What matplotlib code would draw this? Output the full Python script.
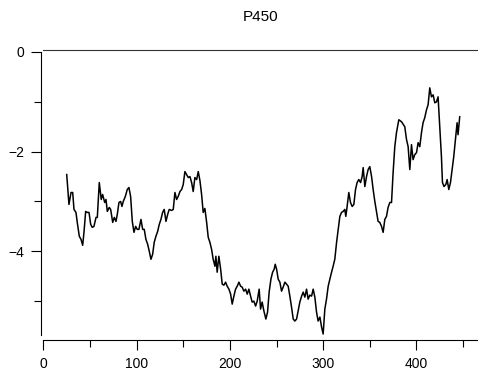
import numpy as np
import matplotlib
matplotlib.use("Agg")
import matplotlib.pyplot as plt
from matplotlib.ticker import MultipleLocator

plt.rcParams['font.family'] = ['Liberation Sans', 'DejaVu Sans']

# trace positions and values
pos = [25.1, 27.5, 29.7, 31.5, 32.9, 35.0, 36.4, 38.6, 40.4, 42.2,
       43.6, 45.4, 47.1, 49.0, 50.8, 52.5, 54.3, 56.5, 57.9, 60.0,
       62.1, 63.6, 65.8, 67.2, 68.6, 70.7, 72.2, 74.4, 76.1, 77.9,
       79.3, 81.1, 82.9, 84.3, 85.7, 87.9, 90.0, 91.8, 93.6, 95.4,
       97.2, 99.0, 100.7, 102.5, 104.7, 106.5, 108.2, 110.0, 111.9, 113.6,
       115.4, 117.2, 118.9, 120.7, 122.6, 124.3, 126.1, 127.9, 129.6, 131.5,
       133.3, 135.0, 137.6, 139.3, 141.1, 142.9, 144.6, 146.5, 148.3, 150.0,
       151.8, 153.6, 155.4, 157.2, 159.0, 160.7, 162.5, 164.4, 166.1, 167.9,
       169.7, 171.4, 173.2, 175.1, 176.8, 178.6, 180.4, 182.1, 184.0, 185.0,
       186.4, 188.2, 190.1, 191.8, 193.6, 195.4, 197.1, 199.0, 200.8, 202.5,
       204.3, 206.1, 207.9, 209.7, 211.5, 213.2, 215.0, 216.9, 218.6, 220.4,
       222.2, 223.9, 225.7, 227.6, 229.3, 231.4, 232.9, 234.6, 236.5, 238.6,
       240.4, 242.1, 244.0, 245.8, 247.5, 248.6, 250.1, 251.8, 253.6, 255.4,
       257.1, 259.0, 260.8, 262.5, 264.3, 266.1, 267.9, 269.7, 271.5, 273.2,
       275.0, 276.9, 278.6, 280.4, 282.2, 283.9, 285.7, 287.6, 289.3, 291.1,
       292.9, 294.6, 296.5, 298.3, 300.0, 301.8, 303.6, 305.4, 307.2, 309.0,
       310.7, 312.5, 314.4, 316.1, 317.9, 319.7, 321.4, 323.2, 324.3, 325.7,
       327.5, 329.3, 331.1, 332.9, 334.7, 336.4, 338.2, 340.1, 341.8, 342.9,
       344.7, 346.5, 348.2, 350.0, 351.9, 353.6, 355.4, 357.2, 358.9, 360.7,
       362.6, 364.3, 366.1, 367.9, 369.6, 371.5, 373.3, 375.0, 376.8, 378.6,
       381.1, 384.0, 387.5, 389.4, 391.1, 392.9, 394.7, 396.4, 398.2, 400.1,
       401.8, 403.6, 405.4, 407.1, 408.9, 410.8, 412.5, 414.3, 416.1, 417.9,
       419.7, 421.5, 423.2, 425.0, 426.8, 427.9, 429.6, 431.5, 432.9, 434.7,
       436.5, 438.2, 440.0, 441.8, 443.6, 444.6, 446.4]
vals = [-2.46, -3.06, -2.82, -2.82, -3.16, -3.22, -3.42, -3.70, -3.76, -3.88,
        -3.62, -3.20, -3.22, -3.22, -3.46, -3.52, -3.50, -3.32, -3.32, -2.62,
        -2.96, -2.86, -3.02, -2.96, -3.20, -3.12, -3.16, -3.42, -3.32, -3.40,
        -3.26, -3.02, -3.00, -3.10, -3.00, -2.90, -2.76, -2.72, -2.90, -3.40,
        -3.62, -3.50, -3.56, -3.56, -3.36, -3.56, -3.56, -3.76, -3.86, -4.00,
        -4.16, -4.06, -3.82, -3.70, -3.60, -3.46, -3.36, -3.22, -3.16, -3.40,
        -3.26, -3.16, -3.18, -3.16, -2.82, -2.96, -2.90, -2.80, -2.76, -2.66,
        -2.40, -2.46, -2.52, -2.50, -2.62, -2.80, -2.52, -2.56, -2.40, -2.58,
        -2.86, -3.22, -3.14, -3.42, -3.72, -3.82, -3.96, -4.16, -4.30, -4.10,
        -4.42, -4.10, -4.36, -4.66, -4.68, -4.62, -4.70, -4.76, -4.86, -5.06,
        -4.90, -4.76, -4.70, -4.62, -4.70, -4.72, -4.80, -4.76, -4.86, -4.76,
        -4.90, -5.02, -5.00, -5.10, -5.00, -4.76, -5.16, -5.02, -5.20, -5.36,
        -5.22, -4.82, -4.56, -4.42, -4.36, -4.26, -4.36, -4.56, -4.62, -4.80,
        -4.72, -4.62, -4.66, -4.70, -4.90, -5.12, -5.36, -5.40, -5.36, -5.20,
        -5.02, -4.90, -4.82, -4.92, -4.76, -4.96, -4.88, -4.90, -4.76, -4.92,
        -5.22, -5.40, -5.32, -5.52, -5.66, -5.16, -4.96, -4.70, -4.56, -4.42,
        -4.30, -4.16, -3.82, -3.56, -3.30, -3.22, -3.20, -3.16, -3.30, -3.10,
        -2.82, -3.02, -3.10, -3.06, -2.76, -2.62, -2.56, -2.62, -2.50, -2.32,
        -2.70, -2.50, -2.36, -2.30, -2.50, -2.76, -3.00, -3.20, -3.40, -3.42,
        -3.50, -3.62, -3.36, -3.30, -3.12, -3.02, -3.02, -2.42, -1.90, -1.62,
        -1.36, -1.40, -1.50, -1.76, -1.90, -2.36, -1.86, -2.16, -2.06, -2.02,
        -1.82, -1.90, -1.62, -1.42, -1.32, -1.16, -1.06, -0.72, -0.90, -0.86,
        -1.02, -1.00, -0.90, -1.50, -2.10, -2.62, -2.70, -2.66, -2.56, -2.76,
        -2.62, -2.36, -2.10, -1.76, -1.42, -1.66, -1.30]

fig = plt.figure(figsize=(4.78, 3.73), dpi=100)
ax = fig.add_axes([0.0906, 0.1019, 0.9094, 0.7587])
ax.plot(pos, vals, color='black', lw=1.1)

ax.set_xlim(0, 466)
ax.set_ylim(-5.68, 0)
ax.xaxis.set_major_locator(MultipleLocator(100))
ax.xaxis.set_minor_locator(MultipleLocator(50))
ax.yaxis.set_major_locator(MultipleLocator(2))
ax.yaxis.set_minor_locator(MultipleLocator(1))

ax.spines['right'].set_visible(False)
ax.spines['left'].set_position(('outward', 1.5))
ax.spines['bottom'].set_position(('outward', 3.6))
ax.spines['top'].set_position(('outward', 1.5))
for s in ['left', 'bottom', 'top']:
    ax.spines[s].set_linewidth(0.8)
ax.spines['top'].set_color('#333333')

ax.tick_params(which='major', direction='out', length=7.5, width=0.8, labelsize=10, pad=5)
ax.tick_params(which='minor', direction='out', length=5, width=0.8)
ax.tick_params(top=False, right=False, which='both')

ax.set_title('P450', fontsize=11, pad=22)

fig.savefig('out.png', dpi=100)
